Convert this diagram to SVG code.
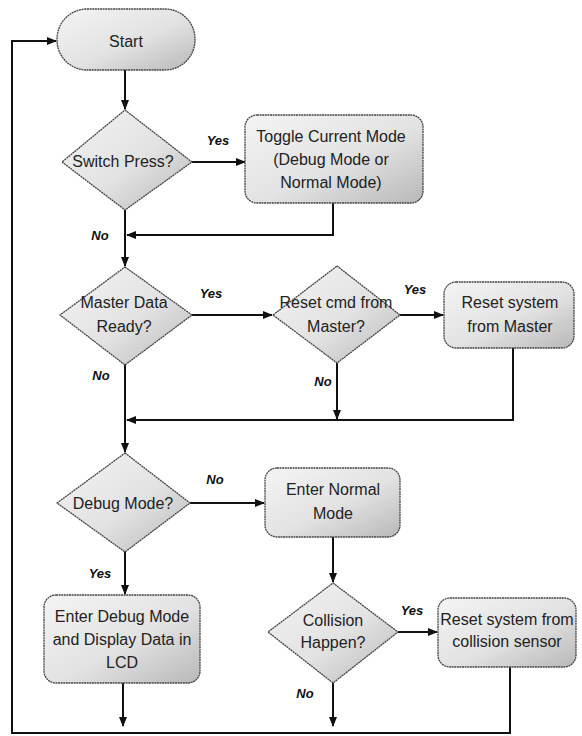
<svg xmlns="http://www.w3.org/2000/svg" width="582" height="736" viewBox="0 0 582 736">
<style>
.n{fill:url(#g);stroke:#444;stroke-width:1.3;stroke-dasharray:2 0.6}
.t{font-family:"Liberation Sans",Arial,sans-serif;font-size:16px;fill:#222;text-anchor:middle}
.l{font-family:"Liberation Sans",Arial,sans-serif;font-size:13px;font-weight:bold;font-style:italic;fill:#111;text-anchor:middle}
.c{fill:none;stroke:#111;stroke-width:2}
</style>
<defs>
<linearGradient id="g" x1="0" y1="0" x2="1" y2="1">
<stop offset="0" stop-color="#f4f4f4"/>
<stop offset="0.55" stop-color="#e2e2e2"/>
<stop offset="1" stop-color="#b8b8b8"/>
</linearGradient>
<marker id="a" markerWidth="10" markerHeight="10" refX="9" refY="5" orient="auto" markerUnits="userSpaceOnUse">
<path d="M0,1 L10,5 L0,9 Z" fill="#111"/>
</marker>
</defs>
<rect width="582" height="736" fill="#fff"/>
<g id="connectors">
<path class="c" d="M125,70 V109" marker-end="url(#a)"/>
<path class="c" d="M192,162 H245" marker-end="url(#a)"/>
<path class="c" d="M333,203 V235 H127" marker-end="url(#a)"/>
<path class="c" d="M125,210 V266" marker-end="url(#a)"/>
<path class="c" d="M192,315 H272" marker-end="url(#a)"/>
<path class="c" d="M400,315 H443" marker-end="url(#a)"/>
<path class="c" d="M513,348 V420 H127" marker-end="url(#a)"/>
<path class="c" d="M337,363 V419" marker-end="url(#a)"/>
<path class="c" d="M125,365 V452" marker-end="url(#a)"/>
<path class="c" d="M190,503 H264" marker-end="url(#a)"/>
<path class="c" d="M125,552 V594" marker-end="url(#a)"/>
<path class="c" d="M333,537 V582" marker-end="url(#a)"/>
<path class="c" d="M398,632 H437" marker-end="url(#a)"/>
<path class="c" d="M123,683 V726" marker-end="url(#a)"/>
<path class="c" d="M333,683 V726" marker-end="url(#a)"/>
<path class="c" d="M510,667 V733 H12 V41 H56" marker-end="url(#a)"/>
<text class="l" x="218" y="145">Yes</text>
<text class="l" x="100" y="240">No</text>
<text class="l" x="211" y="298">Yes</text>
<text class="l" x="101" y="380">No</text>
<text class="l" x="415" y="294">Yes</text>
<text class="l" x="323" y="386">No</text>
<text class="l" x="215" y="484">No</text>
<text class="l" x="100" y="578">Yes</text>
<text class="l" x="412" y="615">Yes</text>
<text class="l" x="305" y="698">No</text>
</g>
<g id="start">
<rect class="n" x="57" y="9" width="138" height="61" rx="30" ry="30"/>
<text class="t" x="126" y="47">Start</text>
</g>
<g id="switch">
<path class="n" d="M125,110 L192,162 L125,210 L62,162 Z" stroke-linejoin="round"/>
<text class="t" x="123" y="167">Switch Press?</text>
</g>
<g id="toggle">
<rect class="n" x="245" y="115" width="178" height="88" rx="12"/>
<text class="t" x="331" y="142">Toggle Current Mode</text>
<text class="t" x="331" y="165">(Debug Mode or</text>
<text class="t" x="331" y="188">Normal Mode)</text>
</g>
<g id="master">
<path class="n" d="M125,267 L192,315 L125,365 L60,315 Z" stroke-linejoin="round"/>
<text class="t" x="124" y="308">Master Data</text>
<text class="t" x="124" y="332">Ready?</text>
</g>
<g id="resetcmd">
<path class="n" d="M337,266 L400,315 L337,363 L273,315 Z" stroke-linejoin="round"/>
<text class="t" x="336" y="308">Reset cmd from</text>
<text class="t" x="336" y="332">Master?</text>
</g>
<g id="resetmaster">
<rect class="n" x="444" y="282" width="130" height="66" rx="12"/>
<text class="t" x="510" y="308">Reset system</text>
<text class="t" x="510" y="332">from Master</text>
</g>
<g id="debug">
<path class="n" d="M125,453 L190,503 L125,552 L57,503 Z" stroke-linejoin="round"/>
<text class="t" x="123" y="509">Debug Mode?</text>
</g>
<g id="normal">
<rect class="n" x="265" y="468" width="135" height="69" rx="12"/>
<text class="t" x="333" y="495">Enter Normal</text>
<text class="t" x="333" y="519">Mode</text>
</g>
<g id="enterdebug">
<rect class="n" x="44" y="595" width="156" height="88" rx="12"/>
<text class="t" x="122" y="622">Enter Debug Mode</text>
<text class="t" x="122" y="645">and Display Data in</text>
<text class="t" x="122" y="668">LCD</text>
</g>
<g id="collision">
<path class="n" d="M333,583 L398,632 L333,683 L268,632 Z" stroke-linejoin="round"/>
<text class="t" x="333" y="626">Collision</text>
<text class="t" x="333" y="648">Happen?</text>
</g>
<g id="resetcollision">
<rect class="n" x="438" y="598" width="138" height="69" rx="12"/>
<text class="t" x="507" y="625">Reset system from</text>
<text class="t" x="507" y="647">collision sensor</text>
</g>
</svg>
